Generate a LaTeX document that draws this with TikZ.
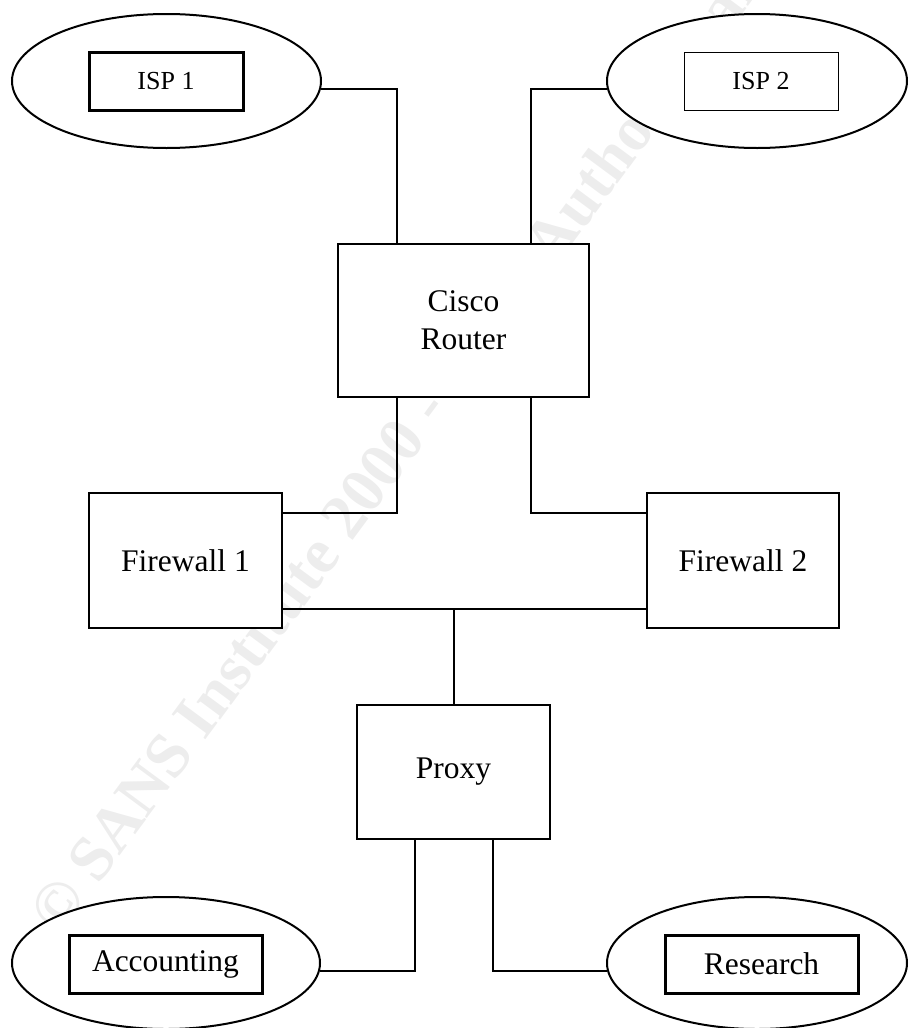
\documentclass[tikz,border=0pt]{standalone}
\usepackage{fontspec}
\setmainfont{Liberation Serif}
\usetikzlibrary{shapes.geometric,calc}
\begin{document}
\begin{tikzpicture}[x=1pt,y=-1pt,
  lan/.style={ellipse, draw, line width=2pt, fill=white, inner sep=0pt},
  dev/.style={rectangle, draw, line width=2pt, fill=white, inner sep=0pt, align=center, font=\fontsize{31.5}{38}\selectfont},
  tag/.style={rectangle, draw, line width=3pt, fill=white, inner sep=0pt, font=\fontsize{31.5}{38}\selectfont},
  isptag/.style={tag, minimum width=154pt, minimum height=58pt, font=\fontsize{26}{30}\selectfont},
  wire/.style={line width=2pt},
  wm/.style={text=black!7, font=\bfseries\fontsize{64}{64}\selectfont, rotate=53.5, anchor=base west, inner sep=0pt}]
\useasboundingbox (0,0) rectangle (908,1028);
\clip (0,0) rectangle (908,1028);
\node[wm] (mark) at (60,937) {© SANS Institute 2000 - 2002, Author retains full rights};
% top networks
\node[lan, minimum width=309pt, minimum height=134pt] (isp1e) at (166.5,81) {};
\node[isptag] (isp1) at (166,81) {ISP 1};
\node[lan, minimum width=300pt, minimum height=134pt] (isp2e) at (757,81) {};
\node[isptag, line width=1pt] (isp2) at (761,81) {ISP 2};
% devices
\node[dev, minimum width=251pt, minimum height=153pt] (router) at (463.5,320.5) {Cisco\\Router};
\node[dev, minimum width=193pt, minimum height=135pt] (fw1) at (185.5,560.5) {Firewall 1};
\node[dev, minimum width=192pt, minimum height=135pt] (fw2) at (743,560.5) {Firewall 2};
\node[dev, minimum width=193pt, minimum height=134pt] (proxy) at (453.5,772) {Proxy};
% bottom networks
\node[lan, minimum width=308pt, minimum height=132pt] (acce) at (166,963) {};
\node[tag, minimum width=193pt, minimum height=58pt] (acc) at (165.5,964) {Accounting};
\node[lan, minimum width=300pt, minimum height=132pt] (rese) at (757,963) {};
\node[tag, minimum width=193pt, minimum height=58pt] (res) at (761.5,964) {Research};
% wires
\draw[wire] (isp1e.-3.4) -| ([xshift=-67pt]router.north);
\draw[wire] (isp2e.183.5) -| ([xshift=67pt]router.north);
\draw[wire] ([xshift=-67pt]router.south) |- ([yshift=47.5pt]fw1.east);
\draw[wire] ([xshift=67pt]router.south) |- ([yshift=47.5pt]fw2.west);
\coordinate (busL) at ([yshift=-48.5pt]fw1.east);
\draw[wire] (busL) -- ([yshift=-48.5pt]fw2.west);
\draw[wire] (proxy.north) -- (proxy.north |- busL);
\draw[wire] ([xshift=-39pt]proxy.south) |- (acce.-3.8);
\draw[wire] ([xshift=39pt]proxy.south) |- (rese.183.8);
\end{tikzpicture}
\end{document}
